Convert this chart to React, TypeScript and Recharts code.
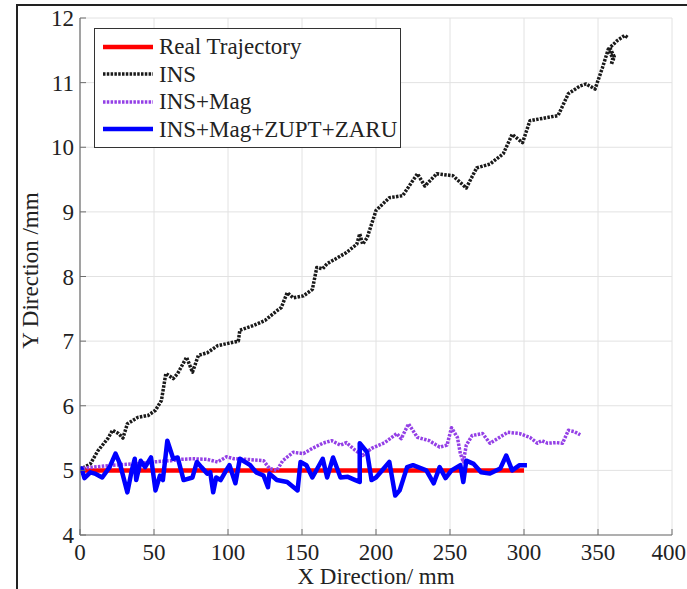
import { LineChart, Line, XAxis, YAxis, CartesianGrid, Legend, Label } from 'recharts';

const xTicks = [0, 50, 100, 150, 200, 250, 300, 350, 400];
const yTicks = [4, 5, 6, 7, 8, 9, 10, 11, 12];

const realX = [0, 300];
const realY = [5, 5];

const insX = [0, 3, 7, 12, 19, 22, 26, 29, 32, 39, 46, 51, 55, 58, 63, 66, 72, 76, 80, 86, 93, 99, 107, 108, 117, 125, 133, 136, 140, 144, 151, 157, 160, 164, 167, 174, 180, 187, 189, 191, 194, 200, 209, 218, 228, 233, 241, 252, 261, 268, 277, 286, 292, 299, 304, 311, 323, 330, 338, 342, 348, 353, 357, 360, 359, 361, 358, 363, 368, 370];
const insY = [5.0, 5.05, 5.1, 5.3, 5.5, 5.62, 5.57, 5.5, 5.72, 5.82, 5.85, 5.93, 6.08, 6.5, 6.42, 6.5, 6.75, 6.52, 6.78, 6.82, 6.93, 6.96, 7.0, 7.17, 7.24, 7.32, 7.47, 7.52, 7.75, 7.67, 7.7, 7.8, 8.14, 8.12, 8.2, 8.29, 8.37, 8.5, 8.66, 8.5, 8.6, 9.02, 9.22, 9.25, 9.59, 9.4, 9.59, 9.56, 9.37, 9.68, 9.74, 9.9, 10.2, 10.07, 10.41, 10.44, 10.49, 10.83, 10.95, 10.98, 10.9, 11.23, 11.52, 11.38, 11.28, 11.4, 11.54, 11.65, 11.73, 11.7];

const magX = [0, 1, 9, 22, 36, 49, 61, 68, 76, 86, 93, 99, 104, 113, 124, 128, 133, 137, 144, 151, 157, 164, 170, 176, 180, 186, 191, 197, 206, 214, 217, 222, 228, 236, 243, 248, 251, 255, 257, 259, 261, 265, 272, 277, 282, 289, 297, 304, 309, 312, 316, 322, 326, 330, 334, 338];
const magY = [5.0, 5.03, 5.05, 5.08, 5.1, 5.13, 5.15, 5.17, 5.18, 5.17, 5.13, 5.21, 5.18, 5.17, 5.15, 5.03, 5.0, 5.15, 5.28, 5.26, 5.34, 5.42, 5.46, 5.39, 5.43, 5.31, 5.23, 5.34, 5.43, 5.57, 5.49, 5.72, 5.51, 5.46, 5.36, 5.39, 5.66, 5.51, 5.26, 5.13, 5.39, 5.54, 5.57, 5.42, 5.49, 5.59, 5.57, 5.51, 5.42, 5.46, 5.42, 5.43, 5.42, 5.62, 5.6, 5.55];

const zuptX = [0, 1, 3, 7, 10, 15, 20, 24, 27, 32, 35, 37, 38, 41, 44, 48, 51, 54, 56, 59, 63, 66, 70, 76, 79, 82, 86, 88, 90, 92, 95, 98, 101, 105, 108, 115, 119, 124, 127, 128, 133, 140, 147, 149, 153, 157, 164, 167, 171, 176, 181, 186, 189, 189, 194, 197, 200, 209, 213, 216, 221, 225, 234, 239, 243, 247, 251, 257, 259, 261, 266, 271, 277, 284, 288, 292, 297, 302];
const zuptY = [5.0, 5.03, 4.88, 4.97, 4.95, 4.89, 5.05, 5.26, 5.1, 4.66, 5.0, 5.18, 4.85, 5.15, 5.05, 5.2, 4.69, 4.92, 4.85, 5.46, 5.18, 5.2, 4.85, 4.89, 5.13, 5.05, 4.95, 4.97, 4.66, 4.89, 4.85, 4.97, 5.08, 4.8, 5.18, 5.08, 4.97, 4.92, 4.74, 4.95, 4.85, 4.82, 4.69, 5.13, 5.08, 4.89, 5.18, 4.89, 5.2, 4.89, 4.9, 4.85, 4.82, 5.42, 5.28, 4.85, 4.89, 5.13, 4.61, 4.69, 5.05, 5.08, 5.0, 4.8, 5.05, 4.88, 5.0, 5.08, 4.82, 5.15, 5.1, 4.97, 4.95, 5.03, 5.23, 5.0, 5.08, 5.08];

const toPoints = (xs: number[], ys: number[]) => xs.map((x, i) => ({ x, y: ys[i] }));

const series = [
  { name: 'Real Trajectory', data: toPoints(realX, realY), color: '#ff0000', width: 4.5, dash: undefined },
  { name: 'INS', data: toPoints(insX, insY), color: '#1a1a1a', width: 3.5, dash: '2.5 1.3' },
  { name: 'INS+Mag', data: toPoints(magX, magY), color: '#9440e6', width: 3.5, dash: '2.5 1.3' },
  { name: 'INS+Mag+ZUPT+ZARU', data: toPoints(zuptX, zuptY), color: '#0000ff', width: 4.5, dash: undefined },
];

const FONT = '"Liberation Serif", "Times New Roman", serif';
const AXIS = '#6e6e6e';

// the last x label sits at the very edge of the figure, so pull it in
const BottomTick = ({ x, y, payload, index }: any) => {
  const last = index === xTicks.length - 1;
  return (
    <g>
      <line x1={x} y1={y} x2={x} y2={y - 6} stroke={AXIS} />
      <text
        x={last ? x + 14 : x}
        y={y + 25}
        textAnchor={last ? 'end' : 'middle'}
        fontFamily={FONT}
        fontSize={23}
        fill="#222"
      >
        {payload.value}
      </text>
    </g>
  );
};

const LeftTick = ({ x, y, payload }: any) => (
  <g>
    <line x1={x} y1={y} x2={x + 6} y2={y} stroke={AXIS} />
    <text x={x - 6} y={y + 8} textAnchor="end" fontFamily={FONT} fontSize={23} fill="#222">
      {payload.value}
    </text>
  </g>
);

const TopTick = ({ x, y }: any) => <line x1={x} y1={y} x2={x} y2={y + 6} stroke={AXIS} />;
const RightTick = ({ x, y }: any) => <line x1={x} y1={y} x2={x - 6} y2={y} stroke={AXIS} />;

const LegendBox = () => (
  <div
    style={{
      width: 307,
      height: 120,
      boxSizing: 'border-box',
      border: '1.5px solid #333',
      background: '#fff',
      padding: '4px 0 0 8px',
      fontFamily: FONT,
      fontSize: 23,
      color: '#222',
    }}
  >
    {series.map((s) => (
      <div key={s.name} style={{ display: 'flex', alignItems: 'center', height: 27.5 }}>
        <svg width={52} height={10} style={{ marginRight: 4 }}>
          <line x1={0} y1={5} x2={50} y2={5} stroke={s.color} strokeWidth={s.width} strokeDasharray={s.dash} />
        </svg>
        <span style={{ whiteSpace: 'nowrap', lineHeight: 1 }}>{s.name}</span>
      </div>
    ))}
  </div>
);

export default function App() {
  return (
    <div style={{ position: 'absolute', left: 0, top: 0, width: 687, height: 589, overflow: 'hidden', background: '#fff' }}>
      <div
        style={{
          position: 'absolute',
          left: 16,
          top: 4,
          width: 720,
          height: 620,
          border: '2px solid #222',
        }}
      />
      <div style={{ position: 'absolute', left: 0, top: 0 }}>
        <LineChart width={687} height={589} margin={{ top: 18, right: 15, left: 0, bottom: 0 }}>
          <CartesianGrid stroke="#e2e2e2" strokeWidth={1} />
          <XAxis
            type="number"
            dataKey="x"
            domain={[0, 400]}
            ticks={xTicks}
            interval={0}
            allowDataOverflow
            height={54}
            tickLine={false}
            tickSize={0}
            tickMargin={0}
            tick={<BottomTick />}
            axisLine={{ stroke: AXIS, strokeWidth: 1.2 }}
          >
            <Label
              value="X Direction/ mm"
              position="insideBottom"
              offset={5}
              style={{ fontFamily: FONT, fontSize: 23, fill: '#222' }}
            />
          </XAxis>
          <XAxis
            xAxisId="top"
            orientation="top"
            type="number"
            dataKey="x"
            domain={[0, 400]}
            ticks={xTicks}
            interval={0}
            allowDataOverflow
            height={0}
            tickLine={false}
            tickSize={0}
            tickMargin={0}
            tick={<TopTick />}
            axisLine={{ stroke: AXIS, strokeWidth: 1.2 }}
          />
          <YAxis
            type="number"
            domain={[4, 12]}
            ticks={yTicks}
            interval={0}
            allowDataOverflow
            width={80}
            tickLine={false}
            tickSize={0}
            tickMargin={0}
            tick={<LeftTick />}
            axisLine={{ stroke: AXIS, strokeWidth: 1.2 }}
          >
            <Label
              value="Y Direction /mm"
              angle={-90}
              position="insideLeft"
              offset={30}
              dy={-6}
              style={{ fontFamily: FONT, fontSize: 23, fill: '#222', textAnchor: 'middle' }}
            />
          </YAxis>
          <YAxis
            yAxisId="right"
            orientation="right"
            type="number"
            domain={[4, 12]}
            ticks={yTicks}
            interval={0}
            allowDataOverflow
            width={0}
            tickLine={false}
            tickSize={0}
            tickMargin={0}
            tick={<RightTick />}
            axisLine={{ stroke: AXIS, strokeWidth: 1.2 }}
          />
          <Legend
            layout="horizontal"
            verticalAlign="middle"
            align="center"
            wrapperStyle={{ left: 94, top: 28, width: 307, height: 120 }}
            content={() => <LegendBox />}
          />
          {series.map((s) => (
            <Line
              key={s.name}
              name={s.name}
              data={s.data}
              dataKey="y"
              type="linear"
              stroke={s.color}
              strokeWidth={s.width}
              strokeDasharray={s.dash}
              strokeLinejoin="round"
              dot={false}
              activeDot={false}
              isAnimationActive={false}
            />
          ))}
        </LineChart>
      </div>
    </div>
  );
}
